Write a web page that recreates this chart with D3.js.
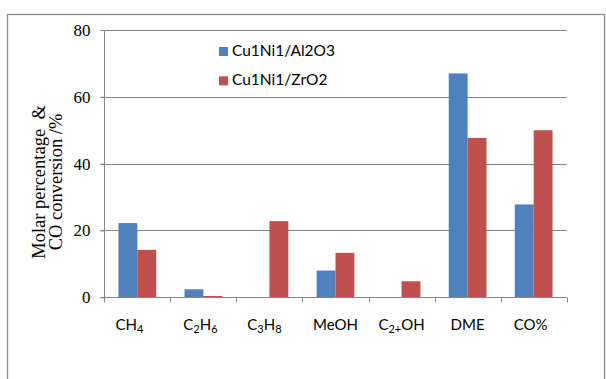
<!DOCTYPE html>
<html>
<head>
<meta charset="utf-8">
<script src="https://cdn.jsdelivr.net/npm/d3@7"></script>
<style>
  html, body { margin: 0; padding: 0; background: #fff; }
  svg { display: block; }
</style>
</head>
<body>
<svg id="chart" width="606" height="379"></svg>
<script>
// Product distribution and CO conversion for the two catalysts
const categories = ["CH4", "C2H6", "C3H8", "MeOH", "C2+OH", "DME", "CO%"];
const seriesNames = ["Cu1Ni1/Al2O3", "Cu1Ni1/ZrO2"];
const al2o3Values = [22.2, 2.4, 0, 8.0, 0, 67.0, 27.8];
const zro2Values = [14.2, 0.4, 22.8, 13.3, 4.8, 47.7, 50.0];
const yTicks = [0, 20, 40, 60, 80];

// Category labels with chemical subscripts: [text, isSubscript]
const labelParts = {
  "CH4": [["CH", false], ["4", true]],
  "C2H6": [["C", false], ["2", true], ["H", false], ["6", true]],
  "C3H8": [["C", false], ["3", true], ["H", false], ["8", true]],
  "MeOH": [["MeOH", false]],
  "C2+OH": [["C", false], ["2+", true], ["OH", false]],
  "DME": [["DME", false]],
  "CO%": [["CO%", false]]
};

const colors = ["#4F81BD", "#C0504D"];
const gridColor = "#868686";

const svg = d3.select("#chart");

// outer chart frame
svg.append("rect")
  .attr("x", 7.5).attr("y", 14.5)
  .attr("width", 597).attr("height", 400)
  .attr("fill", "none")
  .attr("stroke", "#8a8a8a")
  .attr("stroke-width", 1.3);

const plot = { left: 104.3, right: 566.7, top: 30, bottom: 297.3 };

const x0 = d3.scaleBand()
  .domain(categories)
  .range([plot.left, plot.right])
  .padding(0);

const x1 = d3.scaleBand()
  .domain(seriesNames)
  .range([0, x0.bandwidth()])
  .paddingInner(0)
  .paddingOuter(0.75);

const y = d3.scaleLinear()
  .domain([0, 80])
  .range([plot.bottom, plot.top]);

// horizontal gridlines (extend past the axis as tick marks)
svg.append("g")
  .selectAll("line")
  .data(yTicks.filter(t => t > 0))
  .join("line")
  .attr("x1", plot.left - 4)
  .attr("x2", plot.right)
  .attr("y1", d => Math.round(y(d)) + 0.5)
  .attr("y2", d => Math.round(y(d)) + 0.5)
  .attr("stroke", gridColor)
  .attr("stroke-width", 1);

// bars
const rows = categories.map((c, i) => ({ cat: c, vals: [al2o3Values[i], zro2Values[i]] }));
const groups = svg.append("g")
  .selectAll("g")
  .data(rows)
  .join("g")
  .attr("transform", d => `translate(${x0(d.cat)},0)`);

groups.selectAll("rect")
  .data(d => d.vals.map((v, k) => ({ name: seriesNames[k], value: v, k })))
  .join("rect")
  .attr("x", d => x1(d.name))
  .attr("width", x1.bandwidth())
  .attr("y", d => y(d.value))
  .attr("height", d => y(0) - y(d.value))
  .attr("fill", d => colors[d.k]);

// y axis
const yAxis = d3.axisLeft(y)
  .tickValues(yTicks)
  .tickSize(4)
  .tickPadding(10)
  .tickFormat(d3.format("d"));

const gy = svg.append("g")
  .attr("transform", `translate(${Math.round(plot.left) + 0.5},0)`)
  .call(yAxis);
gy.select(".domain").attr("stroke", gridColor).attr("d", `M0,${plot.top}V${plot.bottom}`);
gy.selectAll(".tick line").attr("stroke", gridColor);
gy.selectAll(".tick text")
  .attr("font-family", "'Liberation Serif', 'Times New Roman', serif")
  .attr("font-size", 17)
  .attr("fill", "#000");

// x axis baseline and category dividers
const gx = svg.append("g")
  .attr("transform", `translate(0,${Math.round(plot.bottom) + 0.5})`);
gx.append("line")
  .attr("x1", plot.left - 4).attr("x2", plot.right)
  .attr("stroke", gridColor);
const bounds = categories.map(c => x0(c)).concat([plot.right]);
gx.selectAll("line.div")
  .data(bounds)
  .join("line")
  .attr("class", "div")
  .attr("x1", d => Math.round(d) + 0.5)
  .attr("x2", d => Math.round(d) + 0.5)
  .attr("y1", 0).attr("y2", 5)
  .attr("stroke", gridColor);

// category labels
const labelNudge = { "CH4": -8, "C2H6": -3, "C3H8": -5, "CO%": -3 };
const labelFont = "Lato, 'Open Sans', sans-serif";
const subDrop = 3;
svg.append("g")
  .selectAll("text")
  .data(categories)
  .join("text")
  .attr("x", d => x0(d) + x0.bandwidth() / 2 + (labelNudge[d] || 0))
  .attr("y", 329.5)
  .attr("text-anchor", "middle")
  .attr("font-family", labelFont)
  .attr("font-size", 15)
  .attr("fill", "#000")
  .each(function(d) {
    const t = d3.select(this);
    let prevSub = false;
    labelParts[d].forEach(([s, sub]) => {
      t.append("tspan")
        .attr("font-size", sub ? 11 : 15)
        .attr("dy", (sub ? subDrop : 0) - (prevSub ? subDrop : 0))
        .text(s);
      prevSub = sub;
    });
  });

// legend
const legend = svg.append("g");
seriesNames.forEach((name, k) => {
  const ly = 47 + k * 29.3;
  legend.append("rect")
    .attr("x", 219).attr("y", ly)
    .attr("width", 9).attr("height", 9)
    .attr("fill", colors[k]);
  legend.append("text")
    .attr("x", 232)
    .attr("y", ly + 9)
    .attr("font-family", labelFont)
    .attr("font-size", 15.5)
    .attr("fill", "#000")
    .text(name);
});

// y axis title
const title = svg.append("text")
  .attr("transform", `translate(45,182) rotate(-90)`)
  .attr("text-anchor", "middle")
  .attr("font-family", "'Liberation Serif', 'Times New Roman', serif")
  .attr("font-size", 18.5)
  .attr("fill", "#000");
title.append("tspan").attr("x", 0).attr("dy", 0).attr("xml:space", "preserve").text("Molar percentage  &");
title.append("tspan").attr("x", 0).attr("dy", 17).text("CO conversion /%");
</script>
</body>
</html>
